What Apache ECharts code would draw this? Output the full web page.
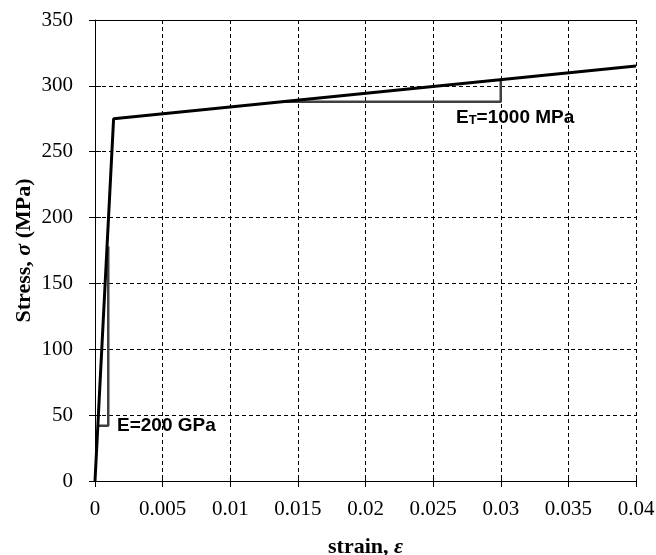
<!DOCTYPE html>
<html><head><meta charset="utf-8">
<script src="https://cdn.jsdelivr.net/npm/echarts@6/dist/echarts.min.js"></script>
<style>html,body{margin:0;padding:0;background:#fff}#c{width:656px;height:555px}</style>
</head><body><div id="c"></div>
<script>
const strainCurve = [0, 0.001375, 0.04];
const stressCurve = [0, 275, 315];
const tangentTriStrain = [0.0139, 0.03, 0.03];
const tangentTriStress = [288, 288, 304.6];
const elasticTriStrain = [0.0002, 0.00098, 0.00098];
const elasticTriStress = [42, 42, 178];
const xTicks = [0, 0.005, 0.01, 0.015, 0.02, 0.025, 0.03, 0.035, 0.04];
const yTicks = [0, 50, 100, 150, 200, 250, 300, 350];

const pairs = (xs, ys) => xs.map((x, i) => [x, ys[i]]);
const chart = echarts.init(document.getElementById('c'));
const serif = 'Liberation Serif';
const grid = {left: 95, right: 20, top: 20, bottom: 74, containLabel: false, outerBoundsMode: 'none'};
const xBase = {type: 'value', min: 0, max: 0.04, interval: 0.005};
const yBase = {type: 'value', min: 0, max: 350, interval: 50};
chart.setOption({
  animation: false,
  grid: grid,
  xAxis: [
    Object.assign({}, xBase, {
      position: 'bottom',
      axisLine: {show: true, lineStyle: {color: '#000', width: 1}},
      axisTick: {show: true, inside: false, length: 6, lineStyle: {color: '#000'}},
      axisLabel: {color: '#000', fontFamily: serif, fontSize: 21, margin: 18,
        formatter: v => String(+v.toFixed(3))},
      splitLine: {show: true, lineStyle: {color: '#000', type: [4, 3], width: 1}},
      name: '{b|strain, }{i|ε}', nameLocation: 'middle', nameGap: 55,
      nameTextStyle: {rich: {
        b: {fontFamily: serif, fontWeight: 'bold', fontSize: 22, color: '#000'},
        i: {fontFamily: serif, fontWeight: 'bold', fontStyle: 'italic', fontSize: 22, color: '#000'}
      }}
    }),
    Object.assign({}, xBase, {
      position: 'bottom',
      axisLine: {show: false},
      axisTick: {show: true, inside: true, length: 6, lineStyle: {color: '#000'}},
      axisLabel: {show: false}, splitLine: {show: false}
    }),
    Object.assign({}, xBase, {
      position: 'top',
      axisLine: {show: true, lineStyle: {color: '#000', width: 1}},
      axisTick: {show: false}, axisLabel: {show: false}, splitLine: {show: false}
    })
  ],
  yAxis: [
    Object.assign({}, yBase, {
      position: 'left',
      axisLine: {show: true, lineStyle: {color: '#000', width: 1}},
      axisTick: {show: true, inside: false, length: 6, lineStyle: {color: '#000'}},
      axisLabel: {color: '#000', fontFamily: serif, fontSize: 21, margin: 22},
      splitLine: {show: true, lineStyle: {color: '#000', type: [4, 3], width: 1}},
      name: '{b|Stress, }{i|σ}{b| (MPa)}', nameLocation: 'middle', nameGap: 60, nameRotate: 90,
      nameMoveOverlap: false,
      nameTextStyle: {rich: {
        b: {fontFamily: serif, fontWeight: 'bold', fontSize: 22, color: '#000'},
        i: {fontFamily: serif, fontWeight: 'bold', fontStyle: 'italic', fontSize: 22, color: '#000'}
      }}
    }),
    Object.assign({}, yBase, {
      position: 'left',
      axisLine: {show: false},
      axisTick: {show: true, inside: true, length: 6, lineStyle: {color: '#000'}},
      axisLabel: {show: false}, splitLine: {show: false}
    })
  ],
  series: [
    {type: 'line', xAxisIndex: 0, yAxisIndex: 0, data: pairs(elasticTriStrain, elasticTriStress),
      symbol: 'none', lineStyle: {color: '#404040', width: 2.5}, z: 3},
    {type: 'line', xAxisIndex: 0, yAxisIndex: 0, data: pairs(tangentTriStrain, tangentTriStress),
      symbol: 'none', lineStyle: {color: '#404040', width: 2.5}, z: 3},
    {type: 'line', xAxisIndex: 0, yAxisIndex: 0, data: pairs(strainCurve, stressCurve),
      symbol: 'none', lineStyle: {color: '#000', width: 3}, z: 4}
  ],
  graphic: [
    {type: 'text', left: 117, top: 416, z: 10, style: {text: 'E=200 GPa',
      font: 'bold 19px "Liberation Sans", Arial', fill: '#000'}},
    {type: 'text', left: 456, top: 108, z: 10, style: {
      text: '{a|E}{s|T}{a|=1000 MPa}',
      rich: {a: {font: 'bold 19px "Liberation Sans", Arial', fill: '#000'},
             s: {font: 'bold 13px "Liberation Sans", Arial', fill: '#000', verticalAlign: 'bottom', padding: [5, 0, 0, 0]}}}}
  ]
});
</script></body></html>
